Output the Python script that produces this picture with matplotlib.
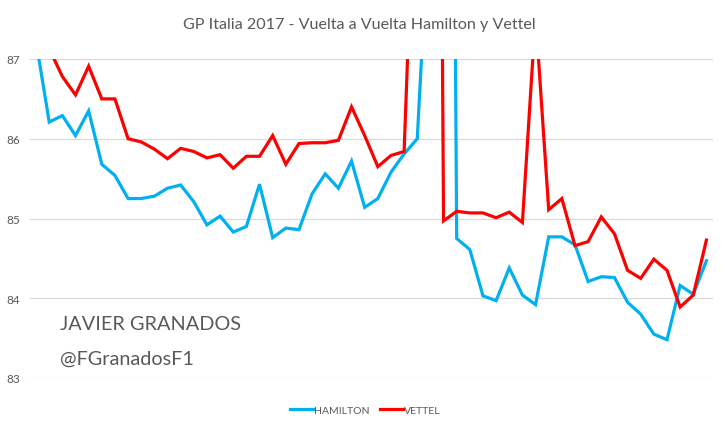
import matplotlib
matplotlib.use("Agg")
import matplotlib.pyplot as plt
import numpy as np

laps = list(range(1, 53))
hamilton = [87.22, 86.21, 86.29, 86.04, 86.35, 85.68, 85.54, 85.25, 85.25, 85.28,
            85.38, 85.42, 85.21, 84.92, 85.03, 84.83, 84.90, 85.43, 84.76, 84.88,
            84.86, 85.31, 85.56, 85.38, 85.72, 85.14, 85.25, 85.58, 85.81, 86.00,
            89.10, 109.3, 84.75, 84.61, 84.03, 83.97, 84.38, 84.04, 83.92, 84.77,
            84.77, 84.67, 84.21, 84.27, 84.26, 83.95, 83.80, 83.55, 83.48, 84.16,
            84.05, 84.47]
vettel = [88.00, 87.13, 86.78, 86.55, 86.91, 86.50, 86.50, 86.00, 85.96, 85.87,
          85.75, 85.88, 85.84, 85.76, 85.80, 85.63, 85.78, 85.78, 86.04, 85.68,
          85.94, 85.95, 85.95, 85.98, 86.40, 86.04, 85.65, 85.79, 85.84, 90.30,
          110.0, 84.97, 85.09, 85.07, 85.07, 85.01, 85.08, 84.95, 87.55, 85.11,
          85.25, 84.66, 84.71, 85.02, 84.81, 84.35, 84.25, 84.49, 84.35, 83.89,
          84.04, 84.73]
y_ticks = [83, 84, 85, 86, 87]
title = "GP Italia 2017 - Vuelta a Vuelta Hamilton y Vettel"
series_names = ["HAMILTON", "VETTEL"]

FONT = ["Lato", "DejaVu Sans"]
GRAY = "#595959"
W, H = 728, 435
fig = plt.figure(figsize=(W / 100, H / 100), dpi=100)
ax = fig.add_axes([29.5 / W, 1 - 379 / H, (713 - 29.5) / W, (379 - 60) / H])

ax.plot(laps, hamilton, color="#00B0F0", lw=2.3, label=series_names[0], solid_joinstyle="miter")
ax.plot(laps, vettel, color="#FF0000", lw=2.3, label=series_names[1], solid_joinstyle="miter")

ax.set_xlim(0.5, 52.5)
ax.set_ylim(83, 87)
ax.set_yticks(y_ticks)
ax.set_yticklabels([str(t) for t in y_ticks], family=FONT, fontsize=8.5, color=GRAY)
ax.set_xticks([])
ax.tick_params(axis="y", length=0, pad=7)
ax.grid(axis="y", color="#D9D9D9", lw=0.9)
ax.set_axisbelow(True)
for s in ax.spines.values():
    s.set_visible(False)

fig.text(359 / W, 1 - 25 / H, title, ha="center", va="center", family=FONT,
         fontsize=11.6, color=GRAY)

ax.text(60 / W, 1 - 325 / H, "JAVIER GRANADOS", transform=fig.transFigure,
        ha="left", va="center", family=FONT, fontsize=14.3, color=GRAY)
ax.text(60 / W, 1 - 359 / H, "@FGranadosF1", transform=fig.transFigure,
        ha="left", va="center", family=FONT, fontsize=14.3, color=GRAY)

leg = fig.legend(loc="center", bbox_to_anchor=(365 / W, 1 - 411 / H), ncol=2,
                 frameon=False, handlelength=2.2, handletextpad=0.1,
                 columnspacing=1.0, prop={"family": FONT, "size": 7.5})
for t in leg.get_texts():
    t.set_color(GRAY)

fig.savefig("out.png", dpi=100)
